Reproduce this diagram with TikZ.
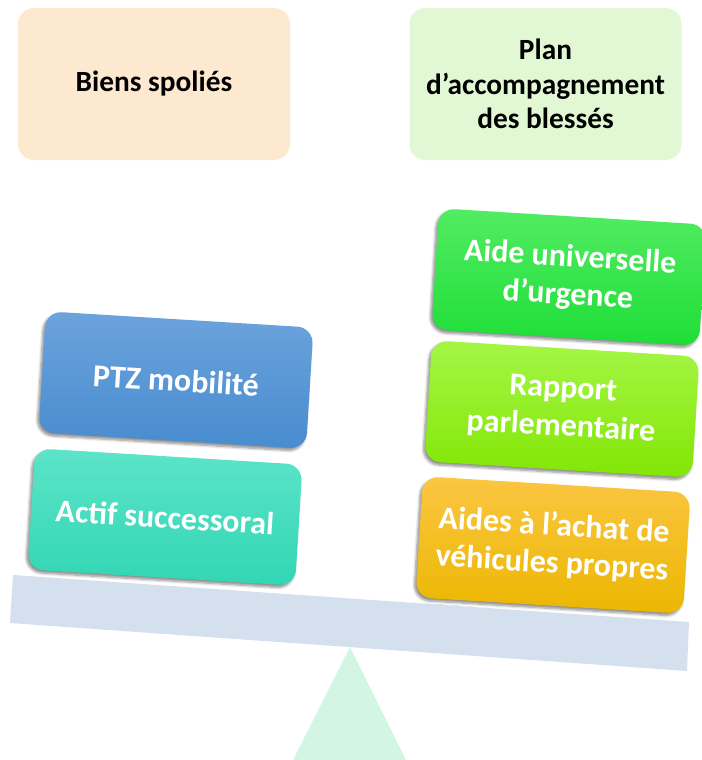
\documentclass[tikz,border=0pt]{standalone}
\usepackage{fontspec}
\setmainfont{Carlito}
\usetikzlibrary{shadows.blur}

\definecolor{peach}{RGB}{253,233,207}
\definecolor{palegreen}{RGB}{226,248,212}
\definecolor{beamblue}{RGB}{212,224,238}
\definecolor{mint}{RGB}{210,245,228}

\tikzset{
  header/.style={rounded corners=12pt, minimum width=204pt, minimum height=114pt,
    align=center, font=\fontsize{22}{26}\selectfont\bfseries},
  weight/.style={rounded corners=12pt, minimum width=201pt, minimum height=91pt,
    rotate=-3.5, align=center, text=white, font=\fontsize{24}{28.5}\selectfont\bfseries,
    blur shadow={shadow xshift=-1.5pt, shadow yshift=-2pt, shadow opacity=45, shadow blur steps=6}}
}

\begin{document}
\begin{tikzpicture}[x=0.75pt,y=0.75pt,yscale=-1,xscale=1]
\useasboundingbox (0,0) rectangle (701,760);

%Shape: Triangle (pivot)
\fill [mint] (350,647) -- (406,760) -- (293,760) -- cycle;
%Shape: Polygon (beam)
\fill [beamblue] (13,575) -- (689,622) -- (687,671) -- (10,623) -- cycle;

% Headers
\node [header, fill=peach] (spolies) at (154,84) {Biens spoliés};
\node [header, fill=palegreen] (blesses) at (545.5,84) {Plan\\d’accompagnement\\des blessés};

% Left pan
\node [weight, top color={rgb,255:red,108;green,163;blue,221}, bottom color={rgb,255:red,72;green,140;blue,207}] (ptz) at (176,380) {PTZ mobilité};
\node [weight, top color={rgb,255:red,92;green,228;blue,200}, bottom color={rgb,255:red,50;green,214;blue,180}] (actif) at (165,517) {Actif successoral};

% Right pan
\node [weight, top color={rgb,255:red,82;green,236;blue,98}, bottom color={rgb,255:red,30;green,222;blue,55}] (aide) at (569,277) {Aide universelle\\d’urgence};
\node [weight, top color={rgb,255:red,165;green,246;blue,70}, bottom color={rgb,255:red,130;green,230;blue,5}] (rapport) at (562,409) {Rapport\\parlementaire};
\node [weight, top color={rgb,255:red,251;green,198;blue,66}, bottom color={rgb,255:red,235;green,183;blue,0}] (achat) at (553,545) {Aides à l’achat de\\véhicules propres};

\end{tikzpicture}
\end{document}
